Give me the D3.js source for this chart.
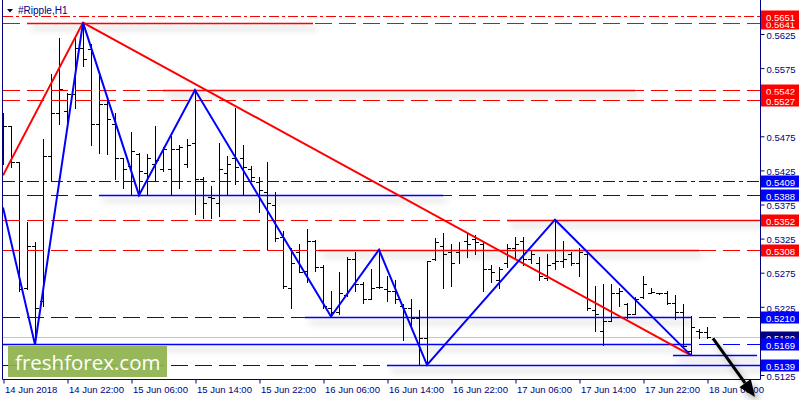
<!DOCTYPE html>
<html>
<head>
<meta charset="utf-8">
<script src="https://cdn.jsdelivr.net/npm/d3@7"></script>
<style>
  body { margin: 0; background: #fff; }
  svg { display: block; }
  text { font-family: "Liberation Sans", Arial, sans-serif; }
</style>
</head>
<body>
<svg id="chart" width="800" height="400"></svg>
<script>
// hourly bars, 14 Jun 14:00 .. 18 Jun 06:00
var barOpen = [0.5468,0.5489,0.5436,0.5252,0.5314,0.5233,0.5446,0.5509,0.5512,0.5536,
  0.5604,0.5603,0.5493,0.5522,0.5493,0.5442,0.5431,0.5449,0.5420,0.5433,
  0.5426,0.5426,0.5456,0.5433,0.5464,0.5411,0.5385,0.5377,0.5421,0.5442,
  0.5442,0.5427,0.5407,0.5392,0.5373,0.5326,0.5252,0.5304,0.5277,0.5321,
  0.5283,0.5223,0.5217,0.5241,0.5295,0.5258,0.5236,0.5254,0.5251,0.5248,
  0.5226,0.5223,0.5208,0.5179,0.5294,0.5313,0.5304,0.5304,0.5321,0.5323,
  0.5317,0.5279,0.5263,0.5288,0.5311,0.5321,0.5294,0.5289,0.5267,0.5289,
  0.5292,0.5302,0.5288,0.5302,0.5219,0.5189,0.5204,0.5245,0.5229,0.5214,
  0.5238,0.5245,0.5244,0.5244,0.5230,0.5217,0.5160,0.5189,0.5187];
var barHigh = [0.5508,0.5490,0.5437,0.5348,0.5319,0.5470,0.5565,0.5618,0.5538,0.5618,
  0.5641,0.5610,0.5566,0.5526,0.5508,0.5443,0.5480,0.5450,0.5449,0.5489,
  0.5458,0.5474,0.5461,0.5471,0.5542,0.5414,0.5401,0.5465,0.5446,0.5516,
  0.5461,0.5430,0.5414,0.5437,0.5392,0.5335,0.5310,0.5317,0.5338,0.5322,
  0.5285,0.5247,0.5275,0.5297,0.5304,0.5260,0.5280,0.5308,0.5269,0.5263,
  0.5229,0.5235,0.5219,0.5292,0.5325,0.5332,0.5317,0.5319,0.5332,0.5329,
  0.5321,0.5285,0.5283,0.5317,0.5326,0.5326,0.5307,0.5298,0.5301,0.5352,
  0.5321,0.5304,0.5311,0.5304,0.5255,0.5258,0.5258,0.5252,0.5230,0.5238,
  0.5270,0.5252,0.5245,0.5248,0.5241,0.5229,0.5211,0.5191,0.5194];
var barLow = [0.5434,0.5429,0.5248,0.5250,0.5169,0.5226,0.5408,0.5493,0.5490,0.5516,
  0.5578,0.5461,0.5450,0.5449,0.5411,0.5399,0.5390,0.5388,0.5390,0.5409,
  0.5424,0.5390,0.5399,0.5429,0.5361,0.5355,0.5354,0.5358,0.5390,0.5405,
  0.5388,0.5409,0.5363,0.5307,0.5321,0.5252,0.5222,0.5275,0.5260,0.5277,
  0.5222,0.5210,0.5214,0.5240,0.5248,0.5230,0.5235,0.5252,0.5233,0.5230,
  0.5176,0.5194,0.5141,0.5139,0.5293,0.5252,0.5255,0.5289,0.5297,0.5302,
  0.5248,0.5260,0.5252,0.5282,0.5295,0.5285,0.5288,0.5263,0.5263,0.5280,
  0.5282,0.5285,0.5269,0.5219,0.5189,0.5168,0.5203,0.5226,0.5208,0.5213,
  0.5237,0.5244,0.5243,0.5229,0.5207,0.5165,0.5153,0.5179,0.5178];
var barClose = [0.5489,0.5436,0.5251,0.5314,0.5223,0.5446,0.5509,0.5543,0.5536,0.5604,
  0.5588,0.5493,0.5522,0.5500,0.5442,0.5426,0.5453,0.5423,0.5442,0.5439,
  0.5456,0.5455,0.5459,0.5461,0.5412,0.5377,0.5384,0.5426,0.5434,0.5429,
  0.5429,0.5414,0.5395,0.5376,0.5325,0.5255,0.5288,0.5276,0.5321,0.5282,
  0.5225,0.5216,0.5244,0.5295,0.5258,0.5236,0.5252,0.5253,0.5247,0.5236,
  0.5223,0.5208,0.5179,0.5291,0.5319,0.5302,0.5289,0.5307,0.5317,0.5319,
  0.5279,0.5276,0.5280,0.5310,0.5317,0.5294,0.5302,0.5269,0.5286,0.5292,
  0.5295,0.5288,0.5304,0.5222,0.5214,0.5204,0.5245,0.5248,0.5214,0.5236,
  0.5258,0.5246,0.5245,0.5230,0.5216,0.5167,0.5194,0.5188,0.5180];

var timeLabels = ['14 Jun 2018', '14 Jun 22:00', '15 Jun 06:00', '15 Jun 14:00', '15 Jun 22:00',
  '16 Jun 06:00', '16 Jun 14:00', '16 Jun 22:00', '17 Jun 06:00', '17 Jun 14:00',
  '17 Jun 22:00', '18 Jun 06:00'];
var timeLabelBars = [0, 8, 16, 24, 32, 40, 48, 56, 64, 72, 80, 88];
// 0.5525 and 0.5175 sit under the level tags, so they are not listed
var priceTicks = [0.5125, 0.5225, 0.5275, 0.5325, 0.5375, 0.5425, 0.5475, 0.5575, 0.5625];

var redLevels = [0.5641, 0.5651, 0.5542, 0.5527, 0.5352, 0.5308];
var blueLevels = [0.5409, 0.5388, 0.5210, 0.5169, 0.5139];
var currentPrice = 0.5180;

// solid zone lines: [price, fromBar, toBar]
var redZones = [[0.5641, 3, 38.75], [0.5542, 20, 79], [0.5352, 63, 95], [0.5308, 39.5, 87]];
var blueZones = [[0.5388, 12, 55], [0.5210, 37.75, 86], [0.5169, 0, 86], [0.5153, 83.75, 94.25], [0.5139, 48, 95]];

// zigzags: [bar, price]
var blueZigzag = [[0, 0.5370], [4, 0.5169], [10, 0.5641], [17, 0.5388], [24, 0.5542],
  [41, 0.5210], [47, 0.5308], [53, 0.5139], [69, 0.5352], [86, 0.5153]];
var redZigzag = [[0, 0.5417], [10, 0.5641], [86, 0.5153]];
var arrowPath = [[88.75, 0.5178], [94, 0.5092]];

var svg = d3.select('#chart'),
    navy = '#000080',
    plotRight = 760,
    plotBottom = 379;

var x = d3.scaleLinear().domain([0, 88]).range([3, 707]);
var y = d3.scaleLinear().domain([0.5125, 0.5625]).range([374.5, 33.5]);

var defs = svg.append('defs');
defs.append('clipPath').attr('id', 'plot')
  .append('rect').attr('x', 2).attr('y', 0).attr('width', plotRight - 2).attr('height', plotBottom);
defs.append('filter').attr('id', 'shadow')
    .attr('filterUnits', 'userSpaceOnUse')
    .attr('x', 0).attr('y', 0).attr('width', 800).attr('height', 400)
  .append('feDropShadow')
    .attr('dx', 4).attr('dy', 5).attr('stdDeviation', 3)
    .attr('flood-color', '#000').attr('flood-opacity', 0.3);

var plot = svg.append('g').attr('clip-path', 'url(#plot)');

// current price line
plot.append('line')
  .attr('x1', 2).attr('x2', plotRight)
  .attr('y1', Math.round(y(currentPrice)) + 0.5).attr('y2', Math.round(y(currentPrice)) + 0.5)
  .style('stroke', '#c8c8c8');

// OHLC bars
var bars = d3.range(barOpen.length);
plot.append('g').selectAll('path')
  .data(bars)
  .enter().append('path')
    .attr('d', function(i) {
      var cx = Math.round(x(i)) + 0.5;
      return 'M' + cx + ',' + Math.round(y(barHigh[i])) + 'V' + (Math.round(y(barLow[i])) + 1) +
        'M' + (cx - 3.5) + ',' + (Math.round(y(barOpen[i])) + 0.5) + 'H' + cx +
        'M' + cx + ',' + (Math.round(y(barClose[i])) + 0.5) + 'H' + (cx + 3.5);
    })
    .style('fill', 'none')
    .style('stroke', '#000')
    .style('stroke-width', 1)
    .style('shape-rendering', 'crispEdges');

// horizontal levels across the chart
function levelDash(p) {
  if (p === 0.5651) return '10,3,3,3';
  if (p === 0.5409) return '12,4,4,4';
  return '17,7';
}
function drawLevels(levels, color) {
  plot.append('g').selectAll('line')
    .data(levels)
    .enter().append('line')
      .attr('x1', 3).attr('x2', plotRight)
      .attr('y1', function(d) { return Math.round(y(d)) + 0.5; })
      .attr('y2', function(d) { return Math.round(y(d)) + 0.5; })
      .style('stroke', color)
      .style('stroke-dasharray', levelDash);
}
drawLevels(redLevels, '#ff0000');
drawLevels(blueLevels, '#0000ff');

// solid zone segments with shadow
function drawZones(zones, color) {
  plot.append('g').selectAll('line')
    .data(zones)
    .enter().append('line')
      .attr('x1', function(d) { return x(d[1]); })
      .attr('x2', function(d) { return x(d[2]); })
      .attr('y1', function(d) { return Math.round(y(d[0])) + 0.5; })
      .attr('y2', function(d) { return Math.round(y(d[0])) + 0.5; })
      .attr('filter', 'url(#shadow)')
      .style('stroke', color)
      .style('stroke-width', 1.3);
}
drawZones(redZones, '#ff0000');
drawZones(blueZones, '#0000ff');

// zigzags
var zz = d3.line().x(function(d) { return x(d[0]); }).y(function(d) { return y(d[1]); });
plot.append('path').attr('d', zz(redZigzag))
  .style('fill', 'none').style('stroke', '#ff0000').style('stroke-width', 2);
plot.append('path').attr('d', zz(blueZigzag))
  .style('fill', 'none').style('stroke', '#0000ff').style('stroke-width', 2);

// frame and axes
svg.append('path')
  .attr('d', 'M2.5,0V' + (plotBottom + 0.5) + 'H' + (plotRight + 0.5) + 'V0')
  .style('fill', 'none').style('stroke', navy);

var yAxis = svg.append('g')
  .attr('transform', 'translate(' + (plotRight + 0.5) + ',0.5)')
  .call(d3.axisRight(y).tickValues(priceTicks).tickSize(4).tickPadding(2).tickFormat(d3.format('.4f')));
yAxis.select('.domain').remove();
yAxis.selectAll('line').style('stroke', navy);
yAxis.selectAll('text').style('fill', navy).style('font-size', '9.5px')
  .attr('font-family', null).attr('dy', '0.45em');

var xAxis = svg.append('g')
  .attr('transform', 'translate(0.5,' + (plotBottom + 0.5) + ')')
  .call(d3.axisBottom(x).tickValues(timeLabelBars).tickSize(4).tickPadding(3)
    .tickFormat(function(d, i) { return timeLabels[i]; }));
xAxis.select('.domain').remove();
xAxis.selectAll('line').style('stroke', navy);
xAxis.selectAll('text').style('fill', navy).style('font-size', '9.5px')
  .attr('font-family', null).attr('text-anchor', 'start').attr('dx', 1);

// price tags on the right axis (later ones drawn on top)
var tags = [];
redLevels.forEach(function(p) { tags.push({ p: p, fill: '#ff0000' }); });
blueLevels.slice(0, 3).forEach(function(p) { tags.push({ p: p, fill: '#0000ff' }); });
tags.push({ p: currentPrice, fill: navy });
blueLevels.slice(3).forEach(function(p) { tags.push({ p: p, fill: '#0000ff' }); });

var tag = svg.append('g').selectAll('g')
  .data(tags)
  .enter().append('g')
    .attr('transform', function(d) { return 'translate(761,' + Math.round(y(d.p)) + ')'; });
tag.append('rect')
  .attr('x', 0).attr('y', -5.5).attr('width', 38).attr('height', 12)
  .style('fill', function(d) { return d.fill; });
tag.append('text')
  .attr('x', 5).attr('y', 4.5)
  .style('fill', '#fff').style('font-size', '9.5px')
  .text(function(d) { return d3.format('.4f')(d.p); });

// forecast arrow
var a0 = [x(arrowPath[0][0]), y(arrowPath[0][1])],
    a1 = [x(arrowPath[1][0]), y(arrowPath[1][1])],
    ang = Math.atan2(a1[1] - a0[1], a1[0] - a0[0]),
    headLen = 17, headW = 7;
var base = [a1[0] - headLen * Math.cos(ang), a1[1] - headLen * Math.sin(ang)];
var arrow = svg.append('g').attr('filter', 'url(#shadow)');
arrow.append('line')
  .attr('x1', a0[0]).attr('y1', a0[1]).attr('x2', base[0]).attr('y2', base[1])
  .style('stroke', '#000').style('stroke-width', 3);
arrow.append('path')
  .attr('d', 'M' + a1[0] + ',' + a1[1] +
    'L' + (base[0] + headW * Math.sin(ang)) + ',' + (base[1] - headW * Math.cos(ang)) +
    'L' + (base[0] - headW * Math.sin(ang)) + ',' + (base[1] + headW * Math.cos(ang)) + 'Z')
  .style('fill', '#000');

// title
svg.append('path').attr('d', 'M7,9H13L10,12.5Z').style('fill', '#000040');
svg.append('text')
  .attr('x', 18).attr('y', 14)
  .style('fill', navy).style('font-size', '10px')
  .text('#Ripple,H1');

// logo
svg.append('rect')
  .attr('x', 8).attr('y', 346).attr('width', 159).attr('height', 31)
  .style('fill', '#8db24c').style('opacity', 0.92);
svg.append('text')
  .attr('x', 15).attr('y', 370)
  .style('fill', '#fff')
  .style('font-family', '"Open Sans", sans-serif')
  .style('font-size', '20.5px')
  .text('freshforex.com');
</script>
</body>
</html>
